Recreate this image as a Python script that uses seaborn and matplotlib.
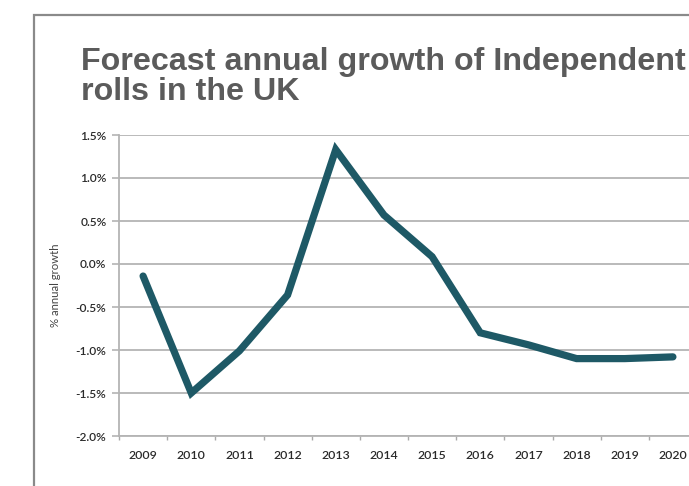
import matplotlib
matplotlib.use("Agg")
import matplotlib.pyplot as plt
import matplotlib.patches as mpatches
from matplotlib.ticker import FixedLocator, FuncFormatter
import seaborn as sns
import pandas as pd
import numpy as np

years = ["2009", "2010", "2011", "2012", "2013", "2014", "2015", "2016", "2017", "2018", "2019", "2020"]
growth = [-0.14, -1.50, -1.01, -0.36, 1.33, 0.57, 0.085, -0.80, -0.94, -1.10, -1.10, -1.08]
y_ticks = [-2.0, -1.5, -1.0, -0.5, 0.0, 0.5, 1.0, 1.5]
title = "Forecast annual growth of Independent\nrolls in the UK"
y_label = "% annual growth"

df = pd.DataFrame({"year": years, "growth": growth})

sns.set_theme(style="white")
plt.rcParams["font.family"] = ["Lato", "DejaVu Sans"]

fig = plt.figure(figsize=(6.89, 4.86), dpi=100)
fig.patch.set_facecolor("white")

# outer frame (only top & left visible)
frame = mpatches.Rectangle((33.5 / 689, -0.1), 1.2, 1 - 15 / 486 + 0.1,
                           transform=fig.transFigure, fill=False,
                           edgecolor="#8a8a8a", linewidth=1.6, zorder=0)
fig.add_artist(frame)

fig.text(81 / 689, 1 - 100 / 486, title, ha="left", va="baseline",
         fontsize=23.2, fontweight="bold", color="#5b5b5b",
         family=["Liberation Sans", "DejaVu Sans"], linespacing=1.0)

ax = fig.add_axes([119 / 689, 1 - 436 / 486, 578 / 689, 301 / 486])
sns.lineplot(data=df, x="year", y="growth", ax=ax, color="#1e5966",
             linewidth=5.2, sort=False, solid_capstyle="round",
             solid_joinstyle="miter")

ax.set_xlim(-0.5, len(years) - 0.5)
ax.set_ylim(-2.0, 1.5)
ax.yaxis.set_major_locator(FixedLocator(y_ticks))
ax.yaxis.set_major_formatter(FuncFormatter(lambda v, p: f"{v:.1f}%"))
ax.grid(axis="y", color="#b4b4b4", linewidth=1.3)
ax.set_axisbelow(True)

ax.set_xticks(range(len(years)))
ax.set_xticklabels(years)
ax.set_xticks(np.arange(-0.5, len(years), 1.0), minor=True)
ax.tick_params(axis="x", which="major", length=0, pad=10, labelsize=8.8,
               labelcolor="#2a2a2a")
ax.tick_params(axis="x", which="minor", length=3, width=1, color="#aaaaaa",
               direction="out", bottom=True)
ax.tick_params(axis="y", which="major", length=5, width=1.2, color="#b4b4b4",
               direction="out", left=True, pad=4, labelsize=8.6,
               labelcolor="#2a2a2a")
for lab in ax.get_xticklabels() + ax.get_yticklabels():
    lab.set_fontweight("semibold")

for s in ["top", "right"]:
    ax.spines[s].set_visible(False)
for s in ["left", "bottom"]:
    ax.spines[s].set_color("#b4b4b4")
    ax.spines[s].set_linewidth(1.3)

ax.set_xlabel("")
ax.set_ylabel(y_label, fontsize=8.2, color="#444444")
ax.yaxis.set_label_coords(-(119 - 61) / 578, (436 - 285) / 301)

fig.savefig("out.png", dpi=100, facecolor="white")
